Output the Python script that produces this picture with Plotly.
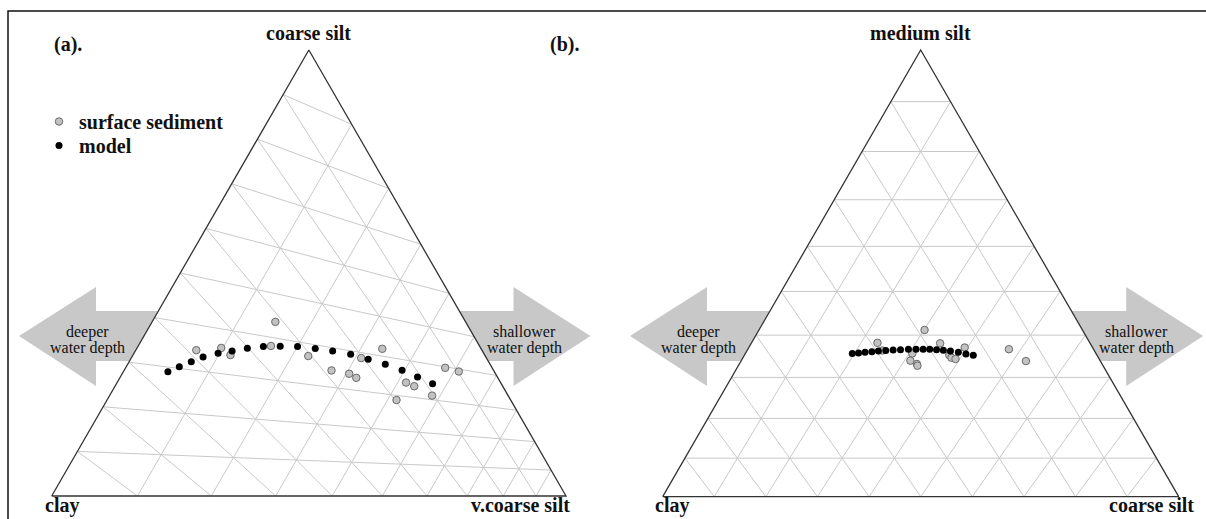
import plotly.graph_objects as go

# ---------------- data (percent) ----------------
grid_levels = [10, 20, 30, 40, 50, 60, 70, 80, 90]

# panel (a): clay / coarse silt / v.coarse silt
a_model_clay = [66.0, 63.6, 61.1, 58.6, 55.7, 53.1, 50.2, 47.2, 44.2, 41.1, 38.1, 35.1, 32.0, 29.1, 26.2, 23.4, 20.9, 18.4]
a_model_cs   = [29.0, 30.4, 31.8, 33.2, 34.5, 35.5, 36.6, 37.6, 38.3, 38.9, 39.1, 39.2, 39.1, 38.6, 38.0, 37.1, 35.9, 34.6]
a_model_vcs  = [5.0, 6.0, 7.1, 8.2, 9.8, 11.4, 13.2, 15.2, 17.5, 20.0, 22.8, 25.7, 28.9, 32.3, 35.8, 39.5, 43.2, 47.0]

a_surf_clay = [41.4, 58.6, 54.4, 54.0, 45.8, 40.6, 38.4, 35.4, 34.6, 30.4, 24.4, 24.5, 23.2, 29.6, 20.5, 12.6, 9.7]
a_surf_cs   = [43.7, 34.5, 35.8, 34.5, 38.0, 37.0, 34.3, 34.1, 33.3, 38.6, 41.9, 33.9, 33.2, 28.7, 31.2, 39.7, 39.3]
a_surf_vcs  = [14.9, 6.9, 9.8, 11.5, 16.2, 22.4, 27.3, 30.5, 32.1, 31.0, 33.7, 41.6, 43.6, 41.7, 48.3, 47.7, 51.0]

# panel (b): clay / medium silt / coarse silt
b_model_clay = [44.7, 43.5, 42.2, 40.9, 39.6, 38.2, 36.8, 35.4, 33.9, 32.5, 31.2, 30.0, 28.8, 27.6, 26.4, 25.1, 23.9, 22.7]
b_model_ms   = [35.7, 35.8, 36.0, 36.1, 36.3, 36.4, 36.5, 36.6, 36.7, 36.7, 36.7, 36.7, 36.6, 36.4, 36.3, 36.0, 35.6, 35.3]
b_model_cs   = [19.6, 20.7, 21.8, 23.0, 24.1, 25.4, 26.7, 28.0, 29.4, 30.8, 32.1, 33.3, 34.6, 35.9, 37.3, 38.9, 40.5, 42.0]

b_surf_clay = [28.7, 38.8, 38.8, 33.7, 34.9, 34.1, 34.2, 27.4, 27.1, 27.0, 26.4, 23.4, 15.5, 13.7]
b_surf_ms   = [41.2, 38.2, 36.4, 35.7, 34.0, 33.2, 32.8, 38.1, 35.3, 34.7, 34.4, 37.1, 36.7, 33.9]
b_surf_cs   = [30.1, 23.0, 24.8, 30.6, 31.1, 32.7, 33.0, 34.5, 37.6, 38.3, 39.2, 39.5, 47.8, 52.4]

# centring (perturbation) weights: (left, top, right)
a_centre = (1.0, 1.0, 1.8)
b_centre = (1.0, 0.85, 1.0)

# ---------------- geometry (pixel space) ----------------
W, H = 1206, 519
GA = dict(L=(51.7, 496.0), R=(566.0, 496.0), T=(308.85, 50.0))
GB = dict(L=(662.7, 496.7), R=(1178.7, 496.7), T=(920.7, 50.0))

SERIF = "Liberation Serif"
GRID_C = "#c9c9c9"
EDGE_C = "#333333"
ARROW_C = "#c8c8c8"


def to_xy(l, t, r, w, g):
    lw, tw, rw = l * w[0], t * w[1], r * w[2]
    s = lw + tw + rw
    lp, tp, rp = lw / s, tw / s, rw / s
    x = g["L"][0] * lp + g["T"][0] * tp + g["R"][0] * rp
    y = g["L"][1] * lp + g["T"][1] * tp + g["R"][1] * rp
    return x, y


def pts(L, T, R, w, g):
    xs, ys = [], []
    for l, t, r in zip(L, T, R):
        x, y = to_xy(l, t, r, w, g)
        xs.append(x)
        ys.append(y)
    return xs, ys


def grid(w, g):
    xs, ys = [], []
    for lv in grid_levels:
        v = lv / 100.0
        segs = [((1 - v, v, 0), (0, v, 1 - v)),
                ((v, 1 - v, 0), (v, 0, 1 - v)),
                ((1 - v, 0, v), (0, 1 - v, v))]
        for a, b in segs:
            x0, y0 = to_xy(*a, w, g)
            x1, y1 = to_xy(*b, w, g)
            xs += [x0, x1, None]
            ys += [y0, y1, None]
    return xs, ys


fig = go.Figure()

for w, g in ((a_centre, GA), (b_centre, GB)):
    gx, gy = grid(w, g)
    fig.add_trace(go.Scatter(x=gx, y=gy, mode="lines", line=dict(color=GRID_C, width=1),
                             hoverinfo="skip", showlegend=False))
    fig.add_trace(go.Scatter(x=[g["L"][0], g["R"][0], g["T"][0], g["L"][0]],
                             y=[g["L"][1], g["R"][1], g["T"][1], g["L"][1]],
                             mode="lines", line=dict(color=EDGE_C, width=1.3),
                             hoverinfo="skip", showlegend=False))

surf_marker = dict(size=7.5, color="#c2c2c2", line=dict(color="#6a6a6a", width=1))
model_marker = dict(size=7, color="#000000", line=dict(width=0))

x, y = pts(a_surf_clay, a_surf_cs, a_surf_vcs, a_centre, GA)
fig.add_trace(go.Scatter(x=x, y=y, mode="markers", marker=surf_marker,
                         name="<b>surface sediment</b>", legend="legend"))
x, y = pts(a_model_clay, a_model_cs, a_model_vcs, a_centre, GA)
fig.add_trace(go.Scatter(x=x, y=y, mode="markers", marker=model_marker,
                         name="<b>model</b>", legend="legend2"))
x, y = pts(b_surf_clay, b_surf_ms, b_surf_cs, b_centre, GB)
fig.add_trace(go.Scatter(x=x, y=y, mode="markers", marker=surf_marker, showlegend=False))
x, y = pts(b_model_clay, b_model_ms, b_model_cs, b_centre, GB)
fig.add_trace(go.Scatter(x=x, y=y, mode="markers", marker=model_marker, showlegend=False))

# ---------------- arrows ----------------
HT, ST, CY, SB, HB = 287, 311, 336, 361, 386


def left_edge_x(g, yy):
    (lx, ly), (tx, ty) = g["L"], g["T"]
    return lx + (ly - yy) / (ly - ty) * (tx - lx)


def right_edge_x(g, yy):
    (rx, ry), (tx, ty) = g["R"], g["T"]
    return rx - (ry - yy) / (ry - ty) * (rx - tx)


def arrow_path(tip, base, e_top, e_bot):
    return (f"M {tip},{CY} L {base},{HT} L {base},{ST} L {e_top},{ST} "
            f"L {e_bot},{SB} L {base},{SB} L {base},{HB} Z")


shapes = []
for g in (GA, GB):
    lx, rx = g["L"][0], g["R"][0]
    ltip, lbase = lx - 32.7, lx + 44.3
    rtip, rbase = rx + 24.5, rx - 52.5
    shapes.append(dict(type="path", xref="x", yref="y", layer="below",
                       path=arrow_path(ltip, lbase, left_edge_x(g, ST), left_edge_x(g, SB)),
                       fillcolor=ARROW_C, line=dict(width=0)))
    shapes.append(dict(type="path", xref="x", yref="y", layer="below",
                       path=arrow_path(rtip, rbase, right_edge_x(g, ST), right_edge_x(g, SB)),
                       fillcolor=ARROW_C, line=dict(width=0)))

# frame
shapes.append(dict(type="rect", xref="x", yref="y", x0=8, y0=11, x1=1215, y1=530,
                   line=dict(color="#111111", width=1.5), fillcolor="rgba(0,0,0,0)", layer="below"))

ann = []


def txt(x, y, s, size, bold=False, xanchor="center"):
    ann.append(dict(x=x, y=y, xref="x", yref="y", text=f"<b>{s}</b>" if bold else s,
                    showarrow=False, xanchor=xanchor, yanchor="middle",
                    font=dict(family=SERIF, size=size, color="#111111")))


# arrow texts
for g in (GA, GB):
    cx_l = g["L"][0] + 35.3
    cx_r = g["R"][0] - 42
    txt(cx_l, 331.5, "deeper", 16)
    txt(cx_l, 348, "water depth", 16)
    txt(cx_r, 331.5, "shallower", 16)
    txt(cx_r, 348, "water depth", 16)

# corner labels
txt(GA["T"][0], 33, "coarse silt", 20, True)
txt(GB["T"][0], 33, "medium silt", 20, True)
txt(43, 505, "clay", 20, True, "left")
txt(572, 505, "v.coarse silt", 20, True, "right")
txt(653, 505, "clay", 20, True, "left")
txt(1196, 505, "coarse silt", 20, True, "right")
txt(52, 44, "(a).", 20, True, "left")
txt(548, 44, "(b).", 20, True, "left")

leg_style = dict(xanchor="left", yanchor="top", bgcolor="rgba(0,0,0,0)", borderwidth=0,
                 font=dict(family=SERIF, size=20, color="#111111"), itemsizing="trace")

fig.update_layout(
    width=W, height=H,
    margin=dict(l=0, r=0, t=0, b=0),
    paper_bgcolor="white", plot_bgcolor="white",
    xaxis=dict(range=[0, W], visible=False, fixedrange=True),
    yaxis=dict(range=[H, 0], visible=False, fixedrange=True),
    shapes=shapes, annotations=ann,
    showlegend=True,
    legend=dict(x=39 / W, y=1 - 102 / H, **leg_style),
    legend2=dict(x=39 / W, y=1 - 126 / H, **leg_style),
)

fig.write_html("out.html")
